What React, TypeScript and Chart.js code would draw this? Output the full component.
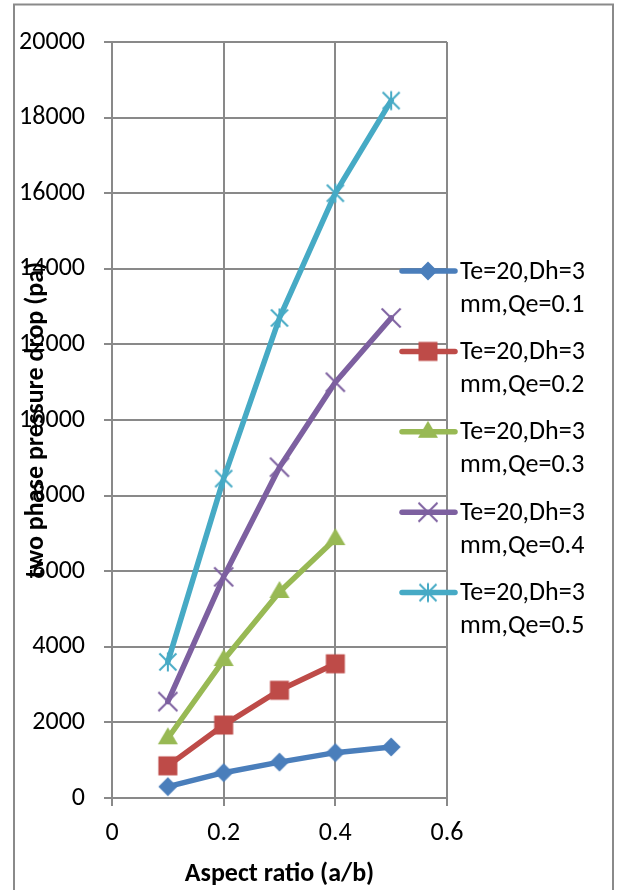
import React, { useEffect, useRef } from 'react';
import { Chart, registerables } from 'chart.js';

Chart.register(...registerables);

// Aspect ratio (a/b) sampled for each series
const aspectRatios = [0.1, 0.2, 0.3, 0.4, 0.5];

// Two phase pressure drop (pa) per evaporator heat flux Qe
const dropQe01 = [300, 670, 950, 1200, 1350];
const dropQe02 = [850, 1930, 2850, 3550];
const dropQe03 = [1580, 3650, 5450, 6850];
const dropQe04 = [2550, 5850, 8750, 11000, 12700];
const dropQe05 = [3600, 8450, 12700, 16000, 18450];

const seriesLabels = [
  'Te=20,Dh=3 mm,Qe=0.1',
  'Te=20,Dh=3 mm,Qe=0.2',
  'Te=20,Dh=3 mm,Qe=0.3',
  'Te=20,Dh=3 mm,Qe=0.4',
  'Te=20,Dh=3 mm,Qe=0.5',
];
const seriesColors = ['#4A7EBB', '#BE4B48', '#98B954', '#7D60A0', '#46AAC5'];

const xTicks = [0, 0.2, 0.4, 0.6];
const yTicks = [0, 2000, 4000, 6000, 8000, 10000, 12000, 14000, 16000, 18000, 20000];

const xTitle = 'Aspect ratio (a/b)';
const yTitle = 'two phase pressure drop (pa)';

const FONT = 'Carlito, Calibri, Lato, sans-serif';
const FONT_SIZE = 26;
const GRID = '#898989';

type Shape = 'diamond' | 'square' | 'triangle' | 'x' | 'star';
const seriesShapes: Shape[] = ['diamond', 'square', 'triangle', 'x', 'star'];

// Builds a small canvas holding one marker glyph, used for points and legend
function makeMarker(shape: Shape, color: string): HTMLCanvasElement {
  const s = 24;
  const h = s / 2;
  const c = document.createElement('canvas');
  c.width = s;
  c.height = s;
  const g = c.getContext('2d')!;
  g.fillStyle = color;
  g.strokeStyle = color;
  g.lineWidth = 2;
  g.beginPath();
  if (shape === 'diamond') {
    const r = 9.5;
    g.moveTo(h, h - r);
    g.lineTo(h + r, h);
    g.lineTo(h, h + r);
    g.lineTo(h - r, h);
    g.closePath();
    g.fill();
  } else if (shape === 'square') {
    const a = 9.5;
    g.rect(h - a, h - a, 2 * a, 2 * a);
    g.fill();
  } else if (shape === 'triangle') {
    g.moveTo(h, h - 11);
    g.lineTo(h + 10, h + 6);
    g.lineTo(h - 10, h + 6);
    g.closePath();
    g.fill();
  } else if (shape === 'x') {
    const a = 9.5;
    g.moveTo(h - a, h - a);
    g.lineTo(h + a, h + a);
    g.moveTo(h + a, h - a);
    g.lineTo(h - a, h + a);
    g.stroke();
  } else {
    const a = 8.5;
    g.moveTo(h - a, h - a);
    g.lineTo(h + a, h + a);
    g.moveTo(h + a, h - a);
    g.lineTo(h - a, h + a);
    g.moveTo(h, h - a - 1);
    g.lineTo(h, h + a + 1);
    g.stroke();
  }
  return c;
}

const frameAndLegend = {
  id: 'frameAndLegend',
  beforeDraw(chart: any) {
    const ctx = chart.ctx as CanvasRenderingContext2D;
    ctx.save();
    ctx.fillStyle = '#ffffff';
    ctx.fillRect(0, 0, chart.width, chart.height);
    ctx.strokeStyle = '#8a8a8a';
    ctx.lineWidth = 2;
    ctx.strokeRect(14, 4.5, 599, 900);
    ctx.restore();
  },
  afterDraw(chart: any) {
    const ctx = chart.ctx as CanvasRenderingContext2D;
    const area = chart.chartArea;

    // Vertical axis title, overlapping the tick labels
    ctx.save();
    ctx.translate(36, (area.top + area.bottom) / 2);
    ctx.rotate(-Math.PI / 2);
    ctx.font = `bold ${FONT_SIZE}px ${FONT}`;
    ctx.fillStyle = '#000';
    ctx.textAlign = 'center';
    ctx.textBaseline = 'middle';
    ctx.fillText(yTitle, 0, 0);
    ctx.restore();

    // Legend with wrapped labels
    chart.data.datasets.forEach((ds: any, i: number) => {
      const y = 271 + i * 80.4;
      ctx.save();
      ctx.strokeStyle = ds.borderColor;
      ctx.lineWidth = 5.5;
      ctx.lineCap = 'round';
      ctx.beginPath();
      ctx.moveTo(402, y);
      ctx.lineTo(455, y);
      ctx.stroke();
      const m = ds.pointStyle as HTMLCanvasElement;
      ctx.drawImage(m, 428 - m.width / 2, y - m.height / 2);
      ctx.font = `${FONT_SIZE}px ${FONT}`;
      ctx.fillStyle = '#000';
      ctx.textAlign = 'left';
      ctx.textBaseline = 'middle';
      const parts = String(ds.label).split(' ');
      ctx.fillText(parts[0], 460, y + 1);
      ctx.fillText(parts.slice(1).join(' '), 460, y + 34);
      ctx.restore();
    });
  },
};

export default function App() {
  const canvasRef = useRef<HTMLCanvasElement | null>(null);

  useEffect(() => {
    const canvas = canvasRef.current;
    if (!canvas) return;
    const seriesValues = [dropQe01, dropQe02, dropQe03, dropQe04, dropQe05];

    const datasets = seriesValues.map((vals, i) => ({
      label: seriesLabels[i],
      data: vals.map((v, k) => ({ x: aspectRatios[k], y: v })),
      borderColor: seriesColors[i],
      backgroundColor: seriesColors[i],
      borderWidth: 5.5,
      borderCapStyle: 'round' as const,
      borderJoinStyle: 'round' as const,
      pointStyle: makeMarker(seriesShapes[i], seriesColors[i]),
      showLine: true,
      tension: 0,
    }));

    const chart = new Chart(canvas, {
      type: 'scatter',
      data: { datasets },
      plugins: [frameAndLegend],
      options: {
        responsive: false,
        animation: false,
        devicePixelRatio: 1,
        layout: { padding: { top: 42, right: 171, left: 0, bottom: 0 } },
        plugins: {
          legend: { display: false },
          tooltip: { enabled: false },
        },
        scales: {
          x: {
            type: 'linear',
            min: 0,
            max: 0.6,
            afterBuildTicks: (scale: any) => {
              scale.ticks = xTicks.map((v) => ({ value: v }));
            },
            afterFit: (scale: any) => {
              scale.height = 92;
            },
            ticks: {
              callback: (v: any) => String(Math.round(Number(v) * 10) / 10),
              font: { family: FONT, size: FONT_SIZE },
              color: '#000',
              padding: 12,
              maxRotation: 0,
            },
            grid: { color: GRID, lineWidth: 2, tickLength: 8 },
            border: { color: GRID, width: 2 },
            title: {
              display: true,
              text: xTitle,
              font: { family: FONT, size: FONT_SIZE, weight: 'bold' },
              color: '#000',
              padding: { top: 0, bottom: 0 },
            },
          },
          y: {
            type: 'linear',
            min: 0,
            max: 20000,
            afterBuildTicks: (scale: any) => {
              scale.ticks = yTicks.map((v) => ({ value: v }));
            },
            afterFit: (scale: any) => {
              scale.width = 112;
            },
            ticks: {
              callback: (v: any) => String(v),
              font: { family: FONT, size: FONT_SIZE },
              color: '#000',
              padding: 19,
            },
            grid: { color: GRID, lineWidth: 2, tickLength: 8 },
            border: { color: GRID, width: 2 },
          },
        },
      },
    });

    return () => chart.destroy();
  }, []);

  return (
    <div style={{ position: 'absolute', left: 0, top: 0, width: 618, height: 890, background: '#fff' }}>
      <canvas ref={canvasRef} width={618} height={890} style={{ display: 'block' }} />
    </div>
  );
}
